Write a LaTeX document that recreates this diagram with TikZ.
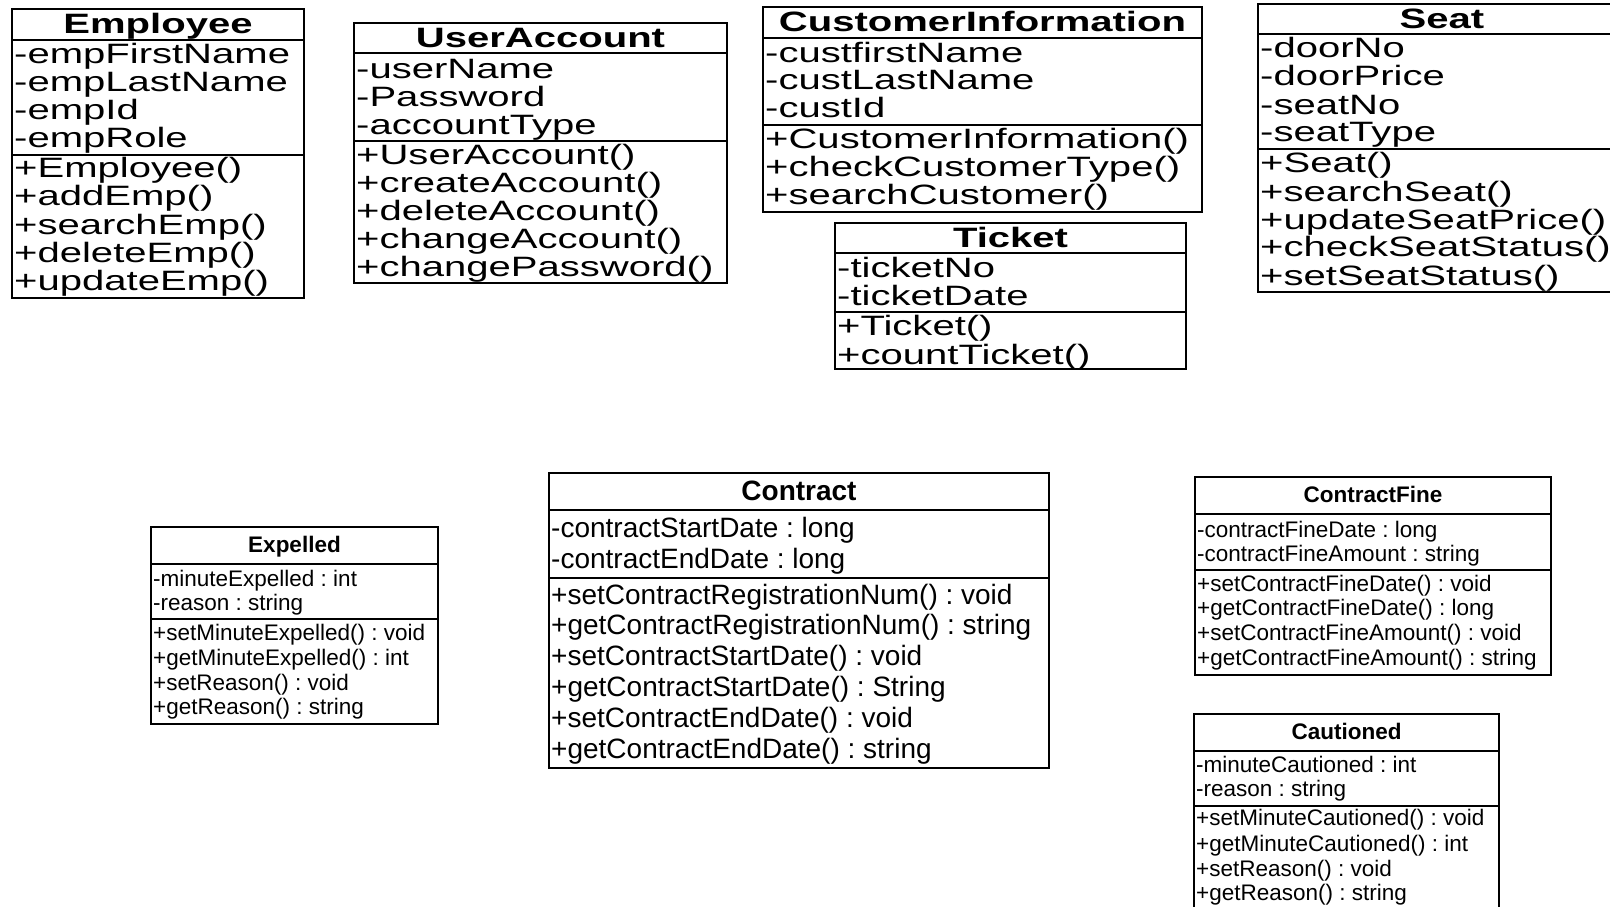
\documentclass[tikz,border=0pt]{standalone}
\usepackage{fontspec}
\setmainfont{Liberation Sans}
\newcommand{\Wd}[1]{\scalebox{1.43}[1]{#1}}
% frame node: name, x1, y1, x2, y2, divider1, divider2
\newcommand{\classframe}[7]{%
  \node[frame, minimum width={(#4-#2)*1pt}, minimum height={(#5-#3)*1pt}] (#1) at ({(#2+#4)/2},{(#3+#5)/2}) {};
  \draw[sep] (#2,#6) -- (#4,#6);
  \draw[sep] (#2,#7) -- (#4,#7);
}
\begin{document}
\frenchspacing
\begin{tikzpicture}[x=1pt,y=-1pt,
  frame/.style={draw, line width=1.6pt, inner sep=0pt, outer sep=0pt},
  sep/.style={line width=1.6pt},
  toptxt/.style={anchor=west, inner sep=0pt, font=\fontsize{28}{28}\selectfont, text height=20pt, text depth=6pt, yshift=-3pt},
  toptitle/.style={anchor=center, inner sep=0pt, font=\fontsize{28}{28}\selectfont\bfseries, text height=20pt, text depth=6pt, yshift=-2pt},
  midtxt/.style={anchor=west, inner sep=0pt, font=\fontsize{28}{28}\selectfont, text height=20pt, text depth=6pt, yshift=-2pt},
  midtitle/.style={anchor=center, inner sep=0pt, font=\fontsize{28}{28}\selectfont\bfseries, text height=20pt, text depth=6pt, yshift=-2pt},
  smtxt/.style={anchor=west, inner sep=0pt, font=\fontsize{22.5}{22.5}\selectfont, text height=16pt, text depth=5pt, yshift=-2pt},
  smtitle/.style={anchor=center, inner sep=0pt, font=\fontsize{22.5}{22.5}\selectfont\bfseries, text height=16pt, text depth=5pt, yshift=-2pt}]
\useasboundingbox (0,0) rectangle (1610,906);
\clip (0,0) rectangle (1610,906);

% ---------- Employee ----------
\classframe{emp}{12}{9}{304}{298}{40}{155}
\node[toptitle] (empT) at (158,24) {\Wd{Employee}};
\foreach \s/\y [count=\i] in {-empFirstName/53,-empLastName/81,-empId/109,-empRole/137}
  \node[toptxt] (empA\i) at (14,\y) {\Wd{\s}};
\foreach \s/\y [count=\i] in {+Employee()/167,+addEmp()/195,+searchEmp()/224,+deleteEmp()/252,+updateEmp()/280}
  \node[toptxt] (empO\i) at (14,\y) {\Wd{\s}};

% ---------- UserAccount ----------
\classframe{ua}{354}{23}{727}{283}{53}{141}
\node[toptitle] (uaT) at (540.5,38) {\Wd{UserAccount}};
\foreach \s/\y [count=\i] in {-userName/68,-Password/96,-accountType/124}
  \node[toptxt] (uaA\i) at (356,\y) {\Wd{\s}};
\foreach \s/\y [count=\i] in {+UserAccount()/154,+createAccount()/182,+deleteAccount()/210,+changeAccount()/238,+changePassword()/266}
  \node[toptxt] (uaO\i) at (356,\y) {\Wd{\s}};

% ---------- CustomerInformation ----------
\classframe{ci}{763}{7}{1202}{212}{38}{125}
\node[toptitle] (ciT) at (982.5,22) {\Wd{CustomerInformation}};
\foreach \s/\y [count=\i] in {-custfirstName/52,-custLastName/79,-custId/107}
  \node[toptxt] (ciA\i) at (765,\y) {\Wd{\s}};
\foreach \s/\y [count=\i] in {+CustomerInformation()/138,+checkCustomerType()/166,+searchCustomer()/194}
  \node[toptxt] (ciO\i) at (765,\y) {\Wd{\s}};

% ---------- Ticket ----------
\classframe{tk}{835}{223}{1186}{369}{253}{312}
\node[toptitle] (tkT) at (1010.5,238) {\Wd{Ticket}};
\foreach \s/\y [count=\i] in {-ticketNo/267,-ticketDate/295}
  \node[toptxt] (tkA\i) at (837,\y) {\Wd{\s}};
\foreach \s/\y [count=\i] in {+Ticket()/325,+countTicket()/354}
  \node[toptxt] (tkO\i) at (837,\y) {\Wd{\s}};

% ---------- Seat ----------
\classframe{st}{1258}{4}{1626}{292}{34}{149}
\node[toptitle] (stT) at (1442,19) {\Wd{Seat}};
\foreach \s/\y [count=\i] in {-doorNo/47,-doorPrice/75,-seatNo/104,-seatType/131}
  \node[toptxt] (stA\i) at (1260,\y) {\Wd{\s}};
\foreach \s/\y [count=\i] in {+Seat()/162,+searchSeat()/191,+updateSeatPrice()/219,+checkSeatStatus()/246,+setSeatStatus()/275}
  \node[toptxt] (stO\i) at (1260,\y) {\Wd{\s}};

% ---------- Expelled ----------
\classframe{ex}{151}{527}{438}{724}{564}{619}
\node[smtitle] (exT) at (294.5,545) {Expelled};
\foreach \s/\y [count=\i] in {-minuteExpelled : int/579,-reason : string/603}
  \node[smtxt] (exA\i) at (153,\y) {\s};
\foreach \s/\y [count=\i] in {+setMinuteExpelled() : void/633,+getMinuteExpelled() : int/658,+setReason() : void/683,+getReason() : string/707}
  \node[smtxt] (exO\i) at (153,\y) {\s};

% ---------- Contract ----------
\classframe{ct}{549}{473}{1049}{768}{510}{578}
\node[midtitle] (ctT) at (799,491) {Contract};
\foreach \s/\y [count=\i] in {-contractStartDate : long/528,-contractEndDate : long/559}
  \node[midtxt] (ctA\i) at (551,\y) {\s};
\foreach \s/\y [count=\i] in {+setContractRegistrationNum() : void/595,+getContractRegistrationNum() : string/625,+setContractStartDate() : void/656,+getContractStartDate() : String/687,+setContractEndDate() : void/718,+getContractEndDate() : string/749}
  \node[midtxt] (ctO\i) at (551,\y) {\s};

% ---------- ContractFine ----------
\classframe{cf}{1195}{477}{1551}{675}{514}{570}
\node[smtitle] (cfT) at (1373,495) {ContractFine};
\foreach \s/\y [count=\i] in {-contractFineDate : long/530,-contractFineAmount : string/554}
  \node[smtxt] (cfA\i) at (1197,\y) {\s};
\foreach \s/\y [count=\i] in {+setContractFineDate() : void/584,+getContractFineDate() : long/608,+setContractFineAmount() : void/633,+getContractFineAmount() : string/658}
  \node[smtxt] (cfO\i) at (1197,\y) {\s};

% ---------- Cautioned ----------
\classframe{ca}{1194}{714}{1499}{930}{751}{806}
\node[smtitle] (caT) at (1346.5,732) {Cautioned};
\foreach \s/\y [count=\i] in {-minuteCautioned : int/765,-reason : string/789}
  \node[smtxt] (caA\i) at (1196,\y) {\s};
\foreach \s/\y [count=\i] in {+setMinuteCautioned() : void/818,+getMinuteCautioned() : int/844,+setReason() : void/869,+getReason() : string/893}
  \node[smtxt] (caO\i) at (1196,\y) {\s};
\end{tikzpicture}
\end{document}
